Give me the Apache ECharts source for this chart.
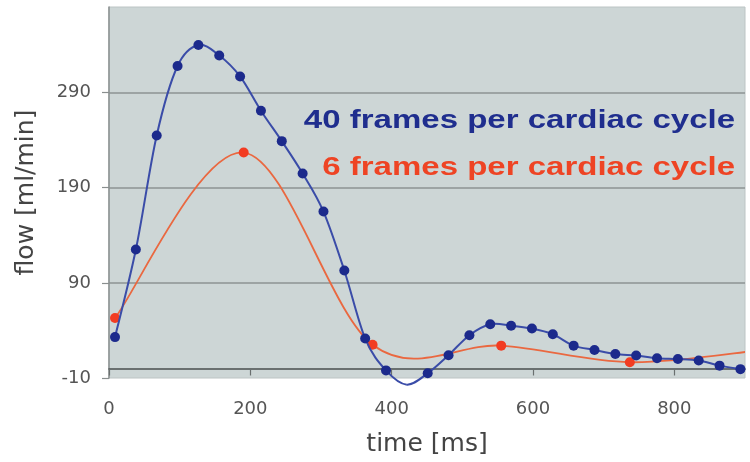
<!DOCTYPE html>
<html><head><meta charset="utf-8">
<script src="https://cdn.jsdelivr.net/npm/echarts@6/dist/echarts.min.js"></script>
<style>html,body{margin:0;padding:0;background:#fff}#c{width:750px;height:462px}</style>
</head><body><div id="c"></div>
<script>
// 40 frames per cycle (blue)
const blueTime = [8.5, 38, 67.5, 97, 126.5, 156, 185.5, 215, 244.5, 274, 303.5, 333, 362.5, 392, 421.5, 451, 480.5, 510, 539.5, 569, 598.5, 628, 657.5, 687, 716.5, 746, 775.5, 805, 834.5, 864, 893.5];
const blueFlow = [33, 125, 245, 318, 340, 329, 307, 271, 239, 205, 165, 103, 31.5, -2, -17, -5, 14, 35, 46.5, 45, 42, 36, 24, 19.5, 15.3, 13.6, 10.8, 10, 8.4, 3, -0.7];
// 6 frames per cycle (red)
const redTime = [8.5, 190.6, 373, 555, 737, 919.5];
const redFlow = [53, 227, 25, 24, 6.6, 19];
const seriesNames = ['40 frames per cardiac cycle', '6 frames per cardiac cycle'];
const yTicks = [-10, 90, 190, 290];
const xTicks = [0, 200, 400, 600, 800];
const xTitle = 'time [ms]';
const yTitle = 'flow [ml/min]';

const pairs = (xs, ys) => xs.map((x, i) => [x, ys[i]]);

// smooth curve through the data points (Catmull-Rom as cubic Bezier), positions from the axes
function splineRenderer(xs, ys, color, width) {
  return function (params, api) {
    const i = params.dataIndex;
    const n = xs.length;
    if (i >= n - 1) return null;
    const P = k => api.coord([xs[Math.max(0, Math.min(n - 1, k))], ys[Math.max(0, Math.min(n - 1, k))]]);
    const p0 = P(i - 1), p1 = P(i), p2 = P(i + 1), p3 = P(i + 2);
    return {
      type: 'bezierCurve',
      shape: {
        x1: p1[0], y1: p1[1], x2: p2[0], y2: p2[1],
        cpx1: p1[0] + (p2[0] - p0[0]) / 6, cpy1: p1[1] + (p2[1] - p0[1]) / 6,
        cpx2: p2[0] - (p3[0] - p1[0]) / 6, cpy2: p2[1] - (p3[1] - p1[1]) / 6
      },
      style: {stroke: color, lineWidth: width, fill: null}
    };
  };
}

const chart = echarts.init(document.getElementById('c'), null, {renderer: 'canvas'});
const font = 'DejaVu Sans';
chart.setOption({
  animation: false,
  grid: {left: 109, right: 5, top: 7, bottom: 79, show: true, backgroundColor: '#cdd6d6', borderColor: '#bcc4c4', borderWidth: 1, containLabel: false},
  xAxis: {
    type: 'value', min: xTicks[0], max: 900, interval: xTicks[1] - xTicks[0],
    axisLine: {show: true, onZero: true, lineStyle: {color: '#4a4f4f', width: 1.5}},
    axisTick: {show: true, inside: false, length: 7, lineStyle: {color: '#6a6f6f', width: 1.2}},
    axisLabel: {margin: 22, color: '#555', fontFamily: font, fontSize: 18, showMaxLabel: false},
    splitLine: {show: false},
    name: xTitle, nameLocation: 'middle', nameGap: 54,
    nameTextStyle: {color: '#444', fontFamily: font, fontSize: 25}
  },
  yAxis: {
    type: 'value', min: yTicks[0], max: 380, interval: yTicks[1] - yTicks[0],
    axisLine: {show: true, lineStyle: {color: '#8a8f8f', width: 1.5}},
    axisTick: {show: true, length: 7, lineStyle: {color: '#8a8f8f', width: 1.2}},
    axisLabel: {margin: 18, color: '#555', fontFamily: font, fontSize: 18, showMaxLabel: false},
    splitLine: {show: true, lineStyle: {color: ['rgba(0,0,0,0)', '#8c9393', '#8c9393', '#8c9393', 'rgba(0,0,0,0)'], width: 1.6}},
    name: yTitle, nameLocation: 'middle', nameGap: 70,
    nameTextStyle: {color: '#444', fontFamily: font, fontSize: 25}
  },
  series: [
    {
      name: seriesNames[1] + ' line', type: 'custom', data: pairs(redTime, redFlow), clip: true,
      renderItem: splineRenderer(redTime, redFlow, '#ea6840', 1.8), z: 2, silent: true
    },
    {
      name: seriesNames[1], type: 'scatter', data: pairs(redTime, redFlow), clip: true,
      symbol: 'circle', symbolSize: 10, itemStyle: {color: '#f23c22', opacity: 1}, z: 3
    },
    {
      name: seriesNames[0] + ' line', type: 'custom', data: pairs(blueTime, blueFlow), clip: false,
      renderItem: splineRenderer(blueTime, blueFlow, '#3a4ca8', 2), z: 4, silent: true
    },
    {
      name: seriesNames[0], type: 'scatter', data: pairs(blueTime, blueFlow), clip: true,
      symbol: 'circle', symbolSize: 10, itemStyle: {color: '#1c2a8c', opacity: 1}, z: 5
    }
  ],
  graphic: [
    {type: 'text', x: 735, y: 121, scaleX: 1.32, z: 10,
      style: {text: seriesNames[0], fill: '#1f2e8e', font: 'bold 25px "Liberation Sans"', align: 'right', verticalAlign: 'middle'}},
    {type: 'text', x: 735, y: 168, scaleX: 1.32, z: 10,
      style: {text: seriesNames[1], fill: '#ee4424', font: 'bold 25px "Liberation Sans"', align: 'right', verticalAlign: 'middle'}}
  ]
});
</script></body></html>
